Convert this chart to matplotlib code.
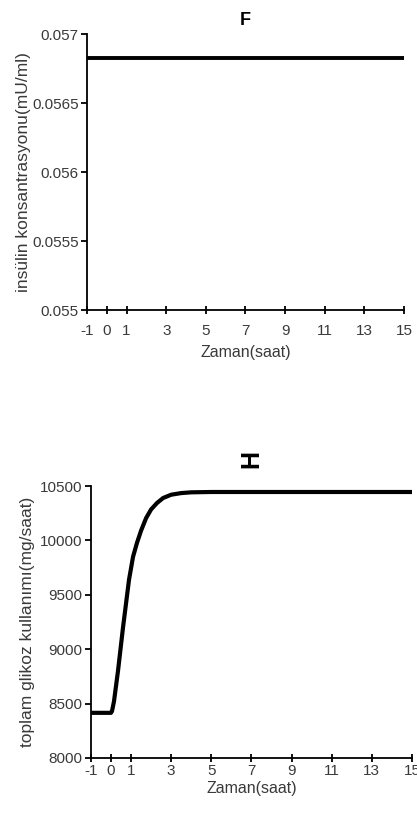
import matplotlib.pyplot as plt
import numpy as np

plt.rcParams['font.family'] = ['Liberation Sans', 'DejaVu Sans']

# insulin concentration (mU/ml) over time (hours)
t_ins = [-1, 15]
insulin = [0.056826, 0.056826]

# total glucose utilisation (mg/hour) over time (hours)
t_glu = [-1, 0, 0.05, 0.15, 0.25, 0.35, 0.45, 0.6, 0.75, 0.9, 1.1, 1.3,
         1.5, 1.75, 2.0, 2.3, 2.6, 3.0, 3.5, 4.0, 5.0, 6.0, 15]
glucose = [8415, 8415, 8430, 8520, 8660, 8800, 8960, 9200, 9420, 9640,
           9850, 9980, 10090, 10205, 10285, 10345, 10390, 10420, 10435,
           10442, 10445, 10445, 10445]

xticks = [-1, 0, 1, 3, 5, 7, 9, 11, 13, 15]
yticks_ins = [0.055, 0.0555, 0.056, 0.0565, 0.057]
yticks_glu = [8000, 8500, 9000, 9500, 10000, 10500]

tick_color = '#3a3a3a'

fig = plt.figure(figsize=(4.17, 8.16), dpi=100)
ax1 = fig.add_axes([0.2086, 0.620, 0.760, 0.338])
ax2 = fig.add_axes([0.218, 0.0711, 0.770, 0.3333])


def style(ax, xpad):
    for s in ['top', 'right']:
        ax.spines[s].set_visible(False)
    for s in ['left', 'bottom']:
        ax.spines[s].set_linewidth(1.3)
    ax.tick_params(axis='y', direction='out', length=4, width=1.3,
                   labelsize=11, labelcolor=tick_color, pad=2)
    ax.tick_params(axis='x', direction='inout', length=6, width=1.3,
                   labelsize=11, labelcolor=tick_color, pad=xpad)
    ax.set_xlim(-1, 15)
    ax.set_xticks(xticks)
    ax.set_xticklabels([str(v) for v in xticks])


ax1.plot(t_ins, insulin, color='black', lw=2.8, solid_capstyle='butt')
style(ax1, 7)
ax1.set_ylim(0.055, 0.057)
ax1.set_yticks(yticks_ins)
ax1.set_yticklabels(['0.055', '0.0555', '0.056', '0.0565', '0.057'])
ax1.set_ylabel('insülin konsantrasyonu(mU/ml)', fontsize=12.5, color=tick_color, labelpad=1)
ax1.set_xlabel('Zaman(saat)', fontsize=11.5, color=tick_color, labelpad=5)
ax1.set_title('F', fontsize=13, fontweight='bold', pad=7)

ax2.plot(t_glu, glucose, color='black', lw=3, solid_capstyle='butt')
style(ax2, 1.5)
ax2.set_ylim(8000, 10500)
ax2.set_yticks(yticks_glu)
ax2.set_ylabel('toplam glikoz kullanımı(mg/saat)', fontsize=12.5, color=tick_color, labelpad=4)
ax2.set_xlabel('Zaman(saat)', fontsize=11.5, color=tick_color, labelpad=2)
ax2.text(7, 1.10, 'H', transform=ax2.get_xaxis_transform(), rotation=90,
         ha='center', va='center', fontsize=18, fontweight='bold')

fig.savefig('out.png', dpi=100)
